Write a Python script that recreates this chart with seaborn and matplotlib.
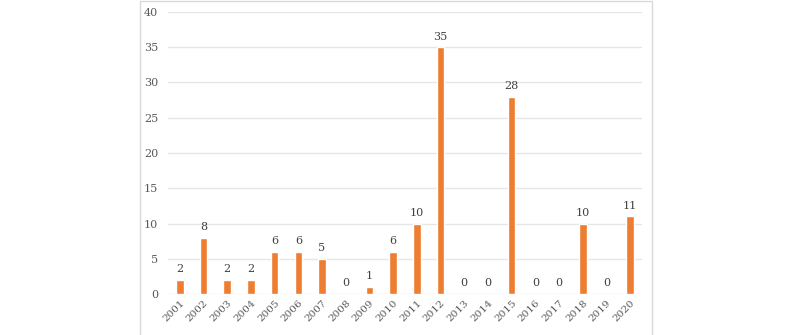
import pandas as pd
import matplotlib.pyplot as plt
import seaborn as sns
from matplotlib.patches import Rectangle

years = [str(y) for y in range(2001, 2021)]
counts = [2, 8, 2, 2, 6, 6, 5, 0, 1, 6, 10, 35, 0, 0, 28, 0, 0, 10, 0, 11]
y_ticks = [0, 5, 10, 15, 20, 25, 30, 35, 40]

BAR_COLOR = "#ED7D31"
TEXT_COLOR = "#595959"

sns.set_theme(style="white")
plt.rcParams['font.family'] = ['DejaVu Serif']

df = pd.DataFrame({"year": years, "count": counts})

fig = plt.figure(figsize=(7.92, 3.35), dpi=100)
fig.patches.append(Rectangle((140 / 792, -0.05), 512 / 792, 1.047,
                             transform=fig.transFigure, fill=False,
                             edgecolor="#d9d9d9", linewidth=1.0))
ax = fig.add_axes([168 / 792, 41 / 335, 474 / 792, 282 / 335])

sns.barplot(data=df, x="year", y="count", color=BAR_COLOR, width=0.32,
            saturation=1, ax=ax)

for i, v in enumerate(counts):
    ax.annotate(str(v), (i, v), xytext=(0, 4), textcoords="offset points",
                ha="center", va="bottom", fontsize=8, color="#404040")

ax.set_ylim(0, 40)
ax.set_yticks(y_ticks)
ax.set_xlim(-0.5, len(years) - 0.5)
ax.yaxis.grid(True, color="#e6e6e6", linewidth=1)
ax.set_axisbelow(True)
for s in ax.spines.values():
    s.set_visible(False)
ax.set_xlabel("")
ax.set_ylabel("")
ax.tick_params(axis="y", length=0, pad=7, labelsize=8, labelcolor=TEXT_COLOR)
ax.tick_params(axis="x", length=0, pad=3, labelsize=7.5, labelcolor=TEXT_COLOR)
plt.setp(ax.get_xticklabels(), rotation=45, ha="right", rotation_mode="anchor")

fig.savefig("out.png", dpi=100)
